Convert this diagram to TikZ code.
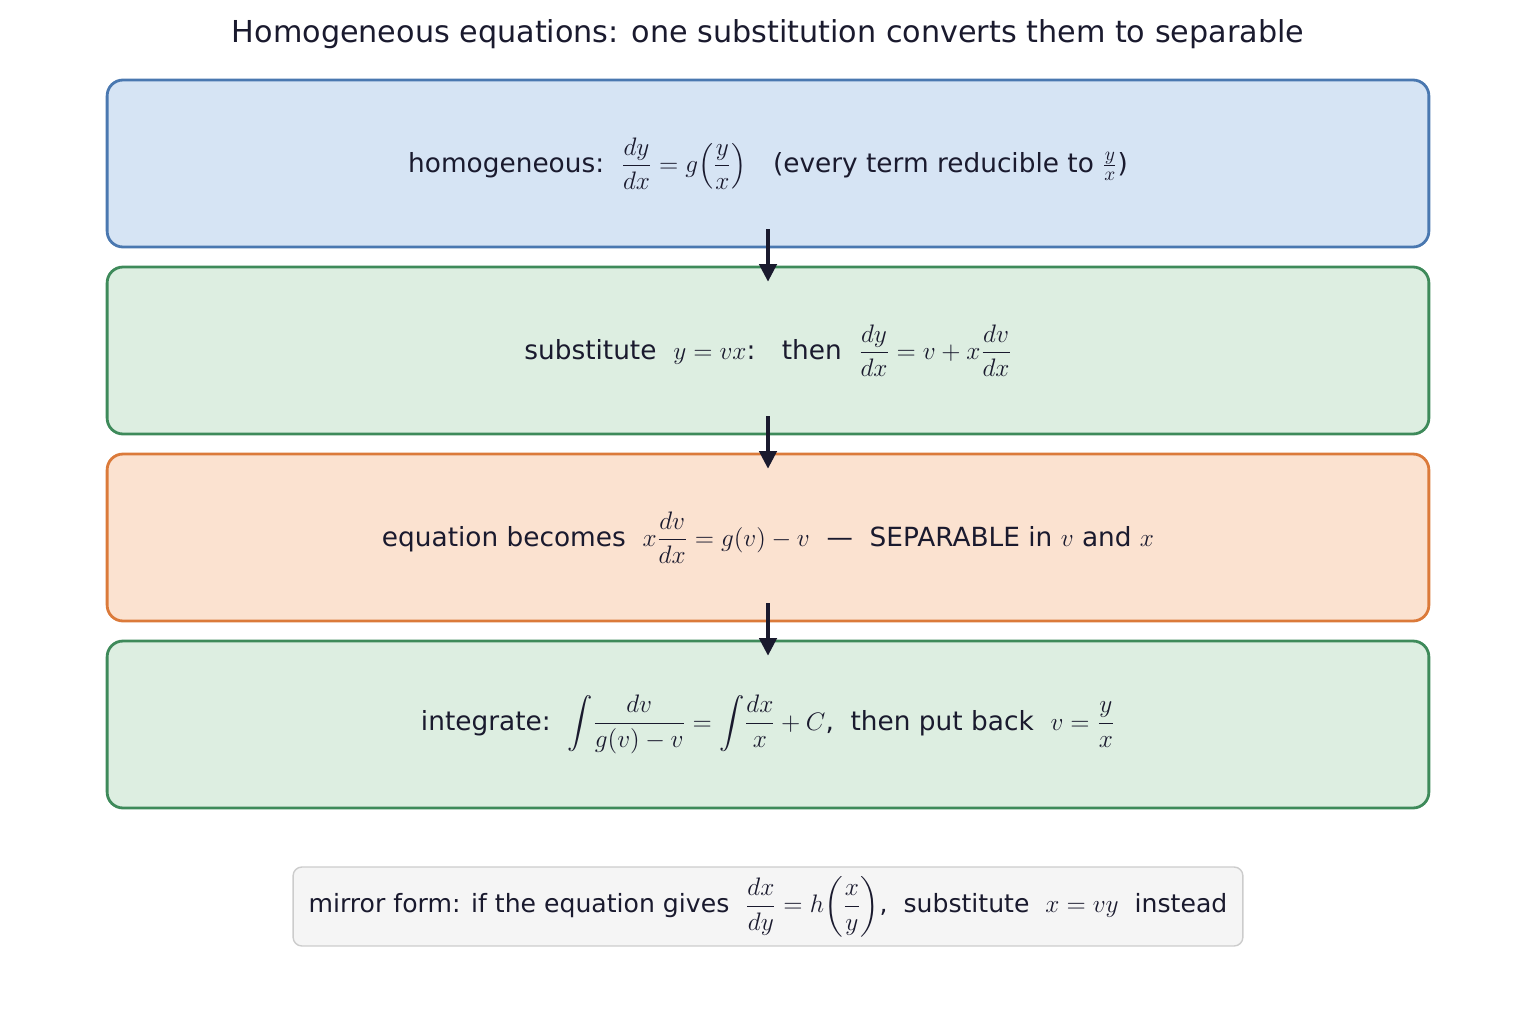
\documentclass[tikz,border=0pt]{standalone}
\usepackage{amsmath}
\usepackage{fontspec}
\setmainfont{DejaVu Sans}
\usetikzlibrary{calc,arrows.meta}
\definecolor{ink}{HTML}{1A1A2E}
\definecolor{blueF}{HTML}{D6E4F4}\definecolor{blueD}{HTML}{4A78B0}
\definecolor{greenF}{HTML}{DDEEE1}\definecolor{greenD}{HTML}{3E8A5A}
\definecolor{orangeF}{HTML}{FBE2D0}\definecolor{orangeD}{HTML}{DB7A3A}
\definecolor{grayF}{HTML}{F5F5F5}\definecolor{grayD}{HTML}{CCCCCC}
\tikzset{stage/.style = {draw,line width=1.6pt,rounded corners=9pt,minimum width=26.44cm,minimum height=3.34cm,text=ink,font=\fontsize{15}{18}\selectfont},
         flow/.style = {-{Triangle[length=10pt,width=10pt]},line width=1.8pt,draw=ink}}
\begin{document}
\begin{tikzpicture}[x=0.02cm,y=-0.02cm]
                    \useasboundingbox (0,0) rectangle (1536,1024);
                    \node[text=ink,font=\fontsize{17.2}{20}\selectfont] (title) at (768,34) {Homogeneous equations: one substitution converts them to separable};

                    \node[stage,fill=blueF,draw=blueD] (homog) at (768,163.5) {homogeneous:\ \ $\dfrac{dy}{dx}=g\!\left(\dfrac{y}{x}\right)$\quad (every term reducible to $\frac{y}{x}$)};
                    \node[stage,fill=greenF,draw=greenD] (subst) at (768,350.5) {substitute\ \ $y=vx$:\quad then\ \ $\dfrac{dy}{dx}=v+x\dfrac{dv}{dx}$};
                    \node[stage,fill=orangeF,draw=orangeD] (separ) at (768,537.5) {equation becomes\ \ $x\dfrac{dv}{dx}=g(v)-v$\ \ —\ \ SEPARABLE in $v$ and $x$};
                    \node[stage,fill=greenF,draw=greenD] (integ) at (768,724.5) {integrate:\ \ $\displaystyle\int\!\frac{dv}{g(v)-v}=\int\!\frac{dx}{x}+C$,\ \ then put back\ \ $v=\dfrac{y}{x}$};

                    \node[draw=grayD,fill=grayF,line width=0.8pt,rounded corners=5pt,minimum width=19cm,minimum height=1.58cm,text=ink,font=\fontsize{14.3}{17}\selectfont] (mirror) at (768,906.5) {mirror form: if the equation gives\ \ $\dfrac{dx}{dy}=h\!\left(\dfrac{x}{y}\right)$,\ \ substitute\ \ $x=vy$\ \ instead};

                    \draw[flow] ($(homog.south)+(0,-19)$) -- ($(subst.north)+(0,16)$);
                    \draw[flow] ($(subst.south)+(0,-19)$) -- ($(separ.north)+(0,16)$);
                    \draw[flow] ($(separ.south)+(0,-19)$) -- ($(integ.north)+(0,16)$);
\end{tikzpicture}
\end{document}
